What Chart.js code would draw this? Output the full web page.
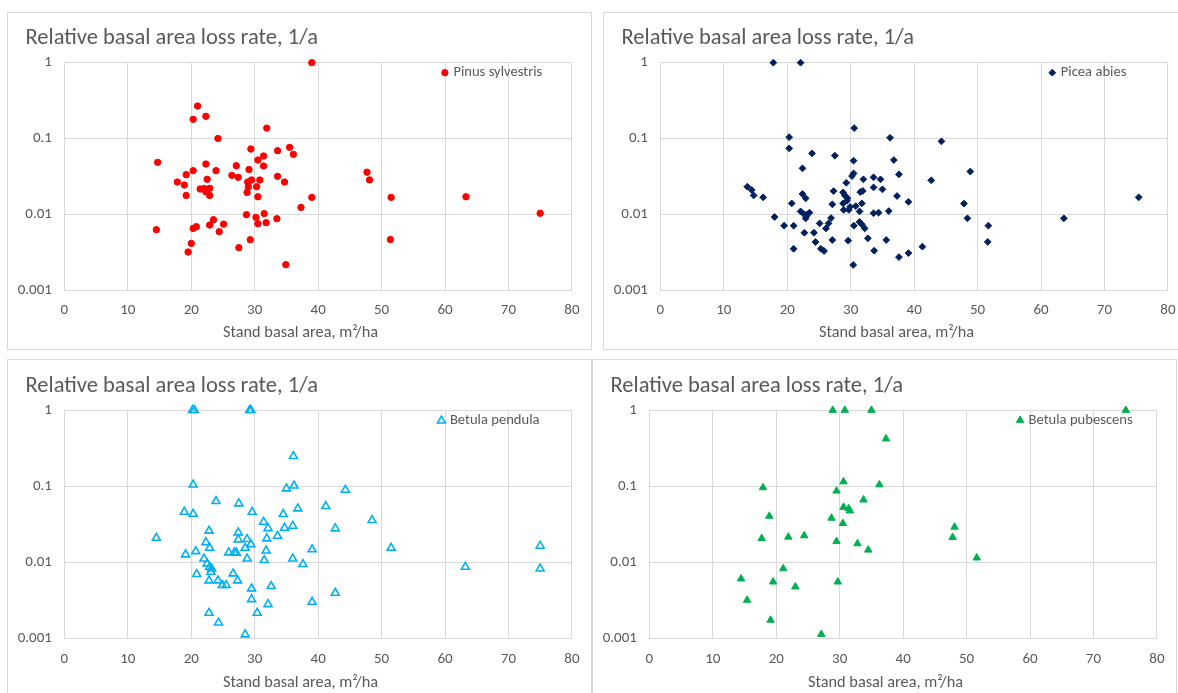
<!DOCTYPE html>
<html>
<head>
<meta charset="utf-8">
<title>Relative basal area loss rate by species</title>
<script src="https://cdn.jsdelivr.net/npm/chart.js@4.4.1/dist/chart.umd.min.js"></script>
<style>
  html, body { margin: 0; padding: 0; background: #fff; width: 1178px; height: 693px; overflow: hidden; }
  .panel { position: absolute; width: 585px; height: 338px; border: 1px solid #d9d9d9; box-sizing: border-box; background: #fff; }
  .panel canvas { position: absolute; left: 0; top: 0; }
</style>
</head>
<body>
<div class="panel" style="left:7px;top:12px"><canvas id="pinus" width="583" height="336"></canvas></div>
<div class="panel" style="left:603px;top:12px"><canvas id="picea" width="583" height="336"></canvas></div>
<div class="panel" style="left:7px;top:359px"><canvas id="pendula" width="583" height="336"></canvas></div>
<div class="panel" style="left:592px;top:359px"><canvas id="pubescens" width="583" height="336"></canvas></div>
<script>
// Shared texts and axis ticks
const chartTitle = 'Relative basal area loss rate, 1/a';
const xAxisTitle = 'Stand basal area, m\u00B2/ha';
const xTicks = [0, 10, 20, 30, 40, 50, 60, 70, 80];
const yTicks = [0.001, 0.01, 0.1, 1];
const yTickLabels = ['0.001', '0.01', '0.1', '1'];

// Pinus sylvestris: stand basal area (m2/ha) and relative loss rate (1/a)
const pinusX = [39.0, 21.0, 20.3, 22.3, 31.9, 24.2, 14.7, 29.4, 33.6, 35.5, 36.1, 31.4, 30.5, 31.4, 22.3, 27.1, 29.1, 20.3, 23.9, 19.2,
  26.4, 27.4, 22.5, 33.6, 34.7, 17.8, 18.9, 28.9, 29.5, 30.8, 30.3, 29.0, 21.4, 22.0, 22.9, 22.3, 22.9, 19.2, 28.8, 30.5,
  39.0, 37.3, 28.7, 30.2, 31.5, 33.5, 30.5, 31.8, 14.5, 20.3, 20.8, 22.9, 23.5, 25.1, 24.4, 20.0, 19.5, 29.3, 27.5, 34.9,
  47.7, 48.1, 51.5, 51.4, 63.3, 75.0];
const pinusY = [1, 0.268, 0.179, 0.196, 0.137, 0.100, 0.0484, 0.0726, 0.069, 0.0763, 0.0617, 0.0586, 0.0519, 0.0433, 0.046, 0.0437, 0.039, 0.0376, 0.0376, 0.0333,
  0.0326, 0.0307, 0.0289, 0.0316, 0.0266, 0.0266, 0.0243, 0.0266, 0.0283, 0.0283, 0.0231, 0.0231, 0.0215, 0.0219, 0.022, 0.0198, 0.0177, 0.0177, 0.0194, 0.017,
  0.0167, 0.0123, 0.00986, 0.0091, 0.0102, 0.00873, 0.0075, 0.00773, 0.00625, 0.0065, 0.00685, 0.0072, 0.00847, 0.0074, 0.00589, 0.00412, 0.00317, 0.00461, 0.00362, 0.00216,
  0.0359, 0.0284, 0.0167, 0.00463, 0.017, 0.0103];

// Picea abies
const piceaX = [17.8, 22.1, 30.55, 20.3, 36.2, 44.3, 20.3, 23.9, 27.5, 30.45, 36.8, 22.4, 30.45, 30.2, 37.6, 33.6, 34.7, 32.0, 42.7, 29.3,
  13.7, 14.4, 33.6, 35.0, 14.7, 16.2, 22.4, 22.9, 27.3, 28.8, 29.1, 29.5, 31.5, 31.9, 37.3, 20.7, 27.1, 28.8, 30.8, 31.75,
  39.1, 22.1, 23.1, 22.9, 23.5, 28.9, 29.7, 31.4, 33.6, 34.4, 36.0, 18.0, 19.5, 21.0, 25.1, 26.9, 26.5, 26.1, 30.5, 31.75,
  32.2, 22.7, 24.2, 24.45, 27.1, 29.6, 32.7, 35.6, 21.0, 25.3, 25.8, 33.7, 37.6, 39.1, 41.3, 30.4, 48.85, 47.85, 48.4, 51.7,
  51.6, 63.6, 75.4, 22.6, 23.0, 29.4, 29.9, 31.4];
const piceaY = [1, 1, 0.137, 0.104, 0.102, 0.0916, 0.074, 0.0636, 0.0593, 0.0509, 0.0519, 0.0403, 0.0346, 0.0319, 0.0336, 0.0307, 0.0289, 0.0289, 0.028, 0.026,
  0.0231, 0.0209, 0.0226, 0.0213, 0.0177, 0.0167, 0.0185, 0.0162, 0.0202, 0.0194, 0.0176, 0.0162, 0.0196, 0.0203, 0.0174, 0.0139, 0.0135, 0.0139, 0.0128, 0.0139,
  0.0146, 0.0109, 0.00986, 0.0088, 0.0105, 0.0114, 0.0114, 0.0109, 0.0103, 0.0105, 0.011, 0.0092, 0.00706, 0.00706, 0.00757, 0.0089, 0.00757, 0.0065, 0.00706, 0.00735,
  0.0065, 0.0057, 0.0057, 0.0043, 0.00457, 0.00448, 0.00481, 0.00457, 0.0035, 0.0035, 0.00327, 0.0033, 0.00272, 0.00307, 0.00373, 0.00214, 0.0366, 0.0138, 0.00883, 0.00707,
  0.00431, 0.00883, 0.0167, 0.0101, 0.0094, 0.015, 0.0125, 0.0079];

// Betula pendula
const pendulaX = [20.2, 20.5, 29.2, 29.4, 36.1, 20.3, 35.0, 36.2, 44.3, 23.9, 27.5, 18.9, 20.3, 29.6, 36.8, 41.2, 34.5, 31.4, 32.1, 34.7,
  36.0, 42.7, 22.8, 14.5, 27.4, 33.6, 22.3, 27.4, 28.8, 29.4, 31.9, 28.5, 22.9, 31.8, 39.05, 19.1, 20.7, 22.0, 25.9, 26.8,
  27.1, 28.8, 31.5, 36.0, 37.6, 22.5, 22.9, 23.2, 20.85, 26.6, 22.8, 24.2, 24.9, 25.5, 27.3, 23.1, 29.5, 32.6, 29.5, 32.1,
  39.05, 42.7, 30.4, 22.8, 24.3, 28.5, 48.5, 51.5, 63.2, 75.0, 75.0];
const pendulaY = [1, 1, 1, 1, 0.249, 0.105, 0.0935, 0.102, 0.0898, 0.0637, 0.0594, 0.0461, 0.0434, 0.0461, 0.051, 0.0548, 0.043, 0.0341, 0.0281, 0.0284,
  0.0302, 0.0279, 0.026, 0.021, 0.0247, 0.0223, 0.0184, 0.02, 0.0202, 0.0173, 0.0206, 0.0155, 0.0155, 0.0143, 0.0148, 0.0127, 0.014, 0.0112, 0.0135, 0.0135,
  0.0134, 0.0112, 0.0107, 0.0112, 0.00947, 0.00966, 0.00874, 0.0083, 0.007, 0.00714, 0.00578, 0.00578, 0.00502, 0.00502, 0.00578, 0.0075, 0.00454, 0.00487, 0.00328, 0.00282,
  0.00303, 0.00398, 0.00217, 0.00217, 0.00162, 0.00113, 0.0359, 0.0155, 0.00874, 0.0165, 0.0083];

// Betula pubescens
const pubescensX = [28.9, 30.8, 35.0, 37.3, 17.9, 30.6, 29.5, 36.25, 33.75, 30.6, 31.4, 31.6, 18.9, 28.7, 30.5, 17.7, 21.9, 24.4, 29.5, 32.8,
  34.5, 21.1, 14.45, 19.5, 23.0, 29.7, 15.4, 19.1, 27.1, 48.1, 47.8, 51.6, 75.1];
const pubescensY = [1, 1, 1, 0.422, 0.0963, 0.115, 0.087, 0.105, 0.0665, 0.0533, 0.0512, 0.0477, 0.0406, 0.0383, 0.0326, 0.0207, 0.0216, 0.0225, 0.0189, 0.0177,
  0.0146, 0.0083, 0.0061, 0.00556, 0.00479, 0.00556, 0.0032, 0.00175, 0.00114, 0.0292, 0.0214, 0.0115, 1];

const FONT = 'Carlito, Lato, sans-serif';
const TEXT = '#595959';
const GRID = '#d9d9d9';

// Marker drawing for the inset legend, same geometry as Chart.js point styles
function drawMarker(ctx, style, x, y, r, fill, stroke, lw) {
  ctx.beginPath();
  if (style === 'circle') {
    ctx.arc(x, y, r, 0, Math.PI * 2);
  } else if (style === 'rectRot') {
    ctx.moveTo(x, y - r); ctx.lineTo(x + r, y); ctx.lineTo(x, y + r); ctx.lineTo(x - r, y);
  } else if (style === 'triangle') {
    const a = Math.PI * 2 / 3;
    ctx.moveTo(x, y - r);
    ctx.lineTo(x + Math.sin(a) * r, y - Math.cos(a) * r);
    ctx.lineTo(x - Math.sin(a) * r, y - Math.cos(a) * r);
  }
  ctx.closePath();
  ctx.fillStyle = fill; ctx.fill();
  if (lw > 0) { ctx.lineWidth = lw; ctx.strokeStyle = stroke; ctx.stroke(); }
}

// Chart title (top left), x axis title (centred on the panel) and the inset legend
const panelText = {
  id: 'panelText',
  afterDatasetsDraw(chart, args, o) {
    const { ctx, chartArea } = chart;
    const ds = chart.data.datasets[0];
    ctx.save();
    ctx.fillStyle = TEXT;
    ctx.textAlign = 'left';
    ctx.textBaseline = 'alphabetic';
    ctx.font = o.titleSize + 'px ' + FONT;
    ctx.fillText(chartTitle, o.titleX, o.titleY);

    ctx.textAlign = 'center';
    ctx.textBaseline = 'middle';
    ctx.font = o.axisSize + 'px ' + FONT;
    ctx.fillText(xAxisTitle, chart.width / 2 + o.axisDx, chartArea.bottom + o.axisDy);

    const mx = chartArea.right + o.legendDx;
    const my = chartArea.top + o.legendDy;
    drawMarker(ctx, ds.pointStyle, mx, my, ds.pointRadius, ds.pointBackgroundColor, ds.pointBorderColor, ds.pointBorderWidth);
    ctx.fillStyle = TEXT;
    ctx.font = o.legendSize + 'px ' + FONT;
    ctx.textAlign = 'left';
    ctx.textBaseline = 'middle';
    ctx.fillText(ds.label, mx + o.legendGap, my);
    ctx.restore();
  }
};

function makeChart(id, label, xs, ys, look, place) {
  const points = xs.map((x, i) => ({ x: x, y: ys[i] }));
  return new Chart(document.getElementById(id), {
    type: 'scatter',
    data: {
      datasets: [{
        label: label,
        data: points,
        pointStyle: look.style,
        pointRadius: look.radius,
        pointBackgroundColor: look.fill,
        pointBorderColor: look.color,
        pointBorderWidth: look.border,
        showLine: false,
        clip: false
      }]
    },
    options: {
      responsive: false,
      devicePixelRatio: 1,
      animation: false,
      events: [],
      layout: { padding: { left: 0, right: 15.5, top: place.top, bottom: place.bottom } },
      plugins: {
        legend: { display: false },
        tooltip: { enabled: false },
        title: { display: false },
        panelText: {
          titleSize: 22.5, titleX: 17.5, titleY: place.titleY,
          axisSize: 16.3, axisDx: 1, axisDy: place.axisDy,
          legendSize: 14.6, legendGap: 8.5, legendDx: place.dx, legendDy: place.dy
        }
      },
      scales: {
        x: {
          type: 'linear', min: 0, max: 80,
          afterBuildTicks: s => { s.ticks = xTicks.map(v => ({ value: v })); },
          afterFit: s => { s.height = 30; },
          ticks: { color: TEXT, font: { family: FONT, size: 15 }, padding: 11.5, maxRotation: 0, autoSkip: false },
          grid: { color: GRID, lineWidth: 1, drawTicks: false },
          border: { display: true, color: GRID }
        },
        y: {
          type: 'logarithmic', min: 0.001, max: 1,
          afterBuildTicks: s => { s.ticks = yTicks.map(v => ({ value: v })); },
          afterFit: s => { s.width = 56.4; },
          ticks: {
            color: TEXT, font: { family: FONT, size: 15 }, padding: 12.5, autoSkip: false,
            callback: v => { const i = yTicks.indexOf(v); return i >= 0 ? yTickLabels[i] : ''; }
          },
          grid: { color: GRID, lineWidth: 1, drawTicks: false },
          border: { display: true, color: GRID }
        }
      }
    },
    plugins: [panelText]
  });
}

const topRow = { top: 49.7, bottom: 29, titleY: 30.5, axisDy: 43.3 };
const bottomRow = { top: 50.2, bottom: 27.4, titleY: 31.7, axisDy: 44.3 };

makeChart('pinus', 'Pinus sylvestris', pinusX, pinusY,
  { style: 'circle', radius: 3.2, fill: '#ff0000', color: '#ff0000', border: 1 }, { ...topRow, dx: -127, dy: 10 });
makeChart('picea', 'Picea abies', piceaX, piceaY,
  { style: 'rectRot', radius: 3.4, fill: '#002060', color: '#002060', border: 1 }, { ...topRow, dx: -115.6, dy: 10 });
makeChart('pendula', 'Betula pendula', pendulaX, pendulaY,
  { style: 'triangle', radius: 4.6, fill: 'rgba(0,0,0,0)', color: '#00b0f0', border: 1.6 }, { ...bottomRow, dx: -130.5, dy: 10.5 });
makeChart('pubescens', 'Betula pubescens', pubescensX, pubescensY,
  { style: 'triangle', radius: 4.3, fill: '#00b050', color: '#00b050', border: 1 }, { ...bottomRow, dx: -136.8, dy: 10 });
</script>
</body>
</html>
